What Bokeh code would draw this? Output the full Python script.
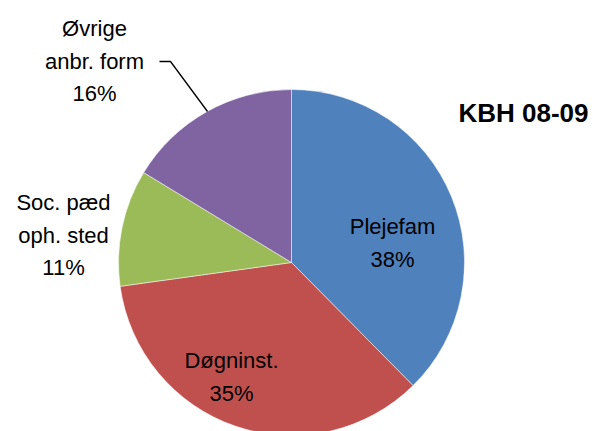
import math
from bokeh.plotting import figure
from bokeh.models import Range1d, ColumnDataSource
from bokeh.core.properties import value
from bokeh.embed import file_html
from bokeh.resources import INLINE

# ---- data ----
categories = ["Plejefam", "Døgninst.", "Soc. pæd\noph. sted", "Øvrige\nanbr. form"]
shares = [37.6, 35.2, 10.9, 16.3]
pct_labels = ["38%", "35%", "11%", "16%"]
colors = ["#4F81BD", "#C0504D", "#9BBB59", "#8064A2"]
title_text = "KBH 08-09"

# ---- layout constants (pixel space: origin at pie centre, y up) ----
CX, CY = 291, 262          # pie centre in page pixels
R = 173
W, H = 593, 431
OX, OY = 0, 0              # page offset of the figure

def px(x):
    return x - CX

def py(y):
    return CY - y

p = figure(width=W, height=H, output_backend="svg", toolbar_location=None,
           x_range=Range1d(px(OX), px(OX + W)), y_range=Range1d(py(OY + H), py(OY)),
           x_axis_location=None, y_axis_location=None, min_border=0)
p.outline_line_color = None
p.xgrid.visible = False
p.ygrid.visible = False
p.background_fill_color = "white"

total = sum(shares)
starts, ends = [], []
cum = 0.0
for s in shares:
    a0 = math.pi / 2 - 2 * math.pi * cum / total
    cum += s
    a1 = math.pi / 2 - 2 * math.pi * cum / total
    starts.append(a1)
    ends.append(a0)

src = ColumnDataSource(dict(start=starts, end=ends, color=colors, cat=categories))
p.wedge(x=0, y=0, radius=R, start_angle="start", end_angle="end",
        fill_color="color", line_color="white", line_width=0.5, source=src,
        direction="anticlock")

# label anchor positions (page pixels): centre x, first baseline y
label_pos = [(392, 226), (231, 360), (63, 202), (94, 28)]
LINE = 32.5
tx, ty, tt = [], [], []
for (lx, ly), cat, pct in zip(label_pos, categories, pct_labels):
    lines = cat.split("\n") + [pct]
    for i, ln in enumerate(lines):
        tx.append(px(lx))
        ty.append(py(ly + i * LINE))
        tt.append(ln)
p.text(x=tx, y=ty, text=tt, text_align="center", text_baseline="alphabetic",
       text_font=value("Liberation Sans"), text_font_size="22px", text_color="black")

# leader line for Øvrige
p.line(x=[px(159), px(170), px(207)], y=[py(61), py(61), py(111)],
       line_color="black", line_width=1.3)

# title
p.text(x=[px(588)], y=[py(112)], text=[title_text], text_align="right",
       text_baseline="alphabetic", text_font=value("Liberation Sans"),
       text_font_size="26px", text_font_style="bold", text_color="black")

open("out.html", "w").write(file_html(p, INLINE))
